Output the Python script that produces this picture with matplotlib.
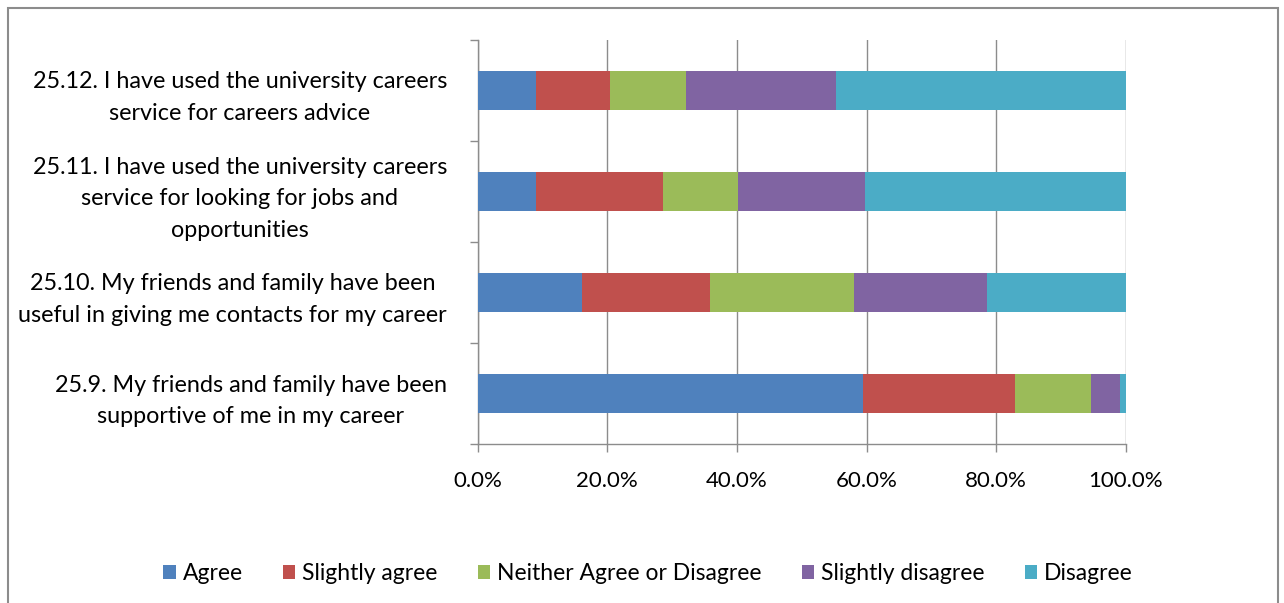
import matplotlib
matplotlib.use("Agg")
import matplotlib.pyplot as plt
import numpy as np
from matplotlib.patches import Rectangle

plt.rcParams['font.family'] = ['Lato', 'DejaVu Sans']

categories = [
    "25.9. My friends and family have been\nsupportive of me in my career",
    "25.10. My friends and family have been\nuseful in giving me contacts for my career",
    "25.11. I have used the university careers\nservice for looking for jobs and\nopportunities",
    "25.12. I have used the university careers\nservice for careers advice",
]
series_names = ["Agree", "Slightly agree", "Neither Agree or Disagree", "Slightly disagree", "Disagree"]
agree = [59.5, 16.1, 9.0, 9.0]
slightly_agree = [23.4, 19.7, 19.6, 11.5]
neither = [11.7, 22.3, 11.6, 11.7]
slightly_disagree = [4.5, 20.5, 19.6, 23.1]
disagree = [0.9, 21.4, 40.2, 44.7]
colors = ["#4F81BD", "#C0504D", "#9BBB59", "#8064A2", "#4BACC6"]
xtick_labels = ["0.0%", "20.0%", "40.0%", "60.0%", "80.0%", "100.0%"]

fig = plt.figure(figsize=(12.84, 6.03), dpi=100)
ax = fig.add_axes([477.5/1284, 1-444/603, 648.5/1284, 404/603])

data = [agree, slightly_agree, neither, slightly_disagree, disagree]
y = np.arange(len(categories))
left = np.zeros(len(categories))
for vals, name, c in zip(data, series_names, colors):
    vals = np.array(vals)
    ax.barh(y, vals, left=left, height=0.39, color=c, label=name, zorder=3)
    left += vals

ax.set_xlim(0, 100)
ax.set_ylim(-0.5, 3.5)
ax.set_xticks(np.arange(0, 101, 20))
ax.set_xticklabels(xtick_labels, fontsize=16)
ax.set_yticks(y)
ax.set_yticklabels(categories, fontsize=16.8, multialignment='center', linespacing=1.62)
ax.set_yticks(np.arange(-0.5, 3.6, 1), minor=True)
ax.tick_params(axis='y', which='major', length=0, pad=22)
ax.tick_params(axis='y', which='minor', length=6, color='#8c8c8c', width=1)
ax.tick_params(axis='x', which='major', length=6, color='#8c8c8c', width=1, pad=13.5)
ax.grid(axis='x', color='#8c8c8c', linewidth=1, zorder=0)
for s in ['top', 'right']:
    ax.spines[s].set_visible(False)
for s in ['left', 'bottom']:
    ax.spines[s].set_color('#8c8c8c')
    ax.spines[s].set_linewidth(1)

handles, labels = ax.get_legend_handles_labels()
fig.legend(handles, labels, loc='center', bbox_to_anchor=(648/1284, 1-574/603), ncol=5,
           frameon=False, fontsize=16.5, handlelength=0.55, handleheight=0.55,
           handletextpad=0.3, columnspacing=1.75)

fig.patches.append(Rectangle((8/1284, -0.05), 1270/1284, 1.05-8/603, transform=fig.transFigure,
                             fill=False, edgecolor='#8c8c8c', linewidth=1.5))

fig.savefig("out.png", dpi=100)
